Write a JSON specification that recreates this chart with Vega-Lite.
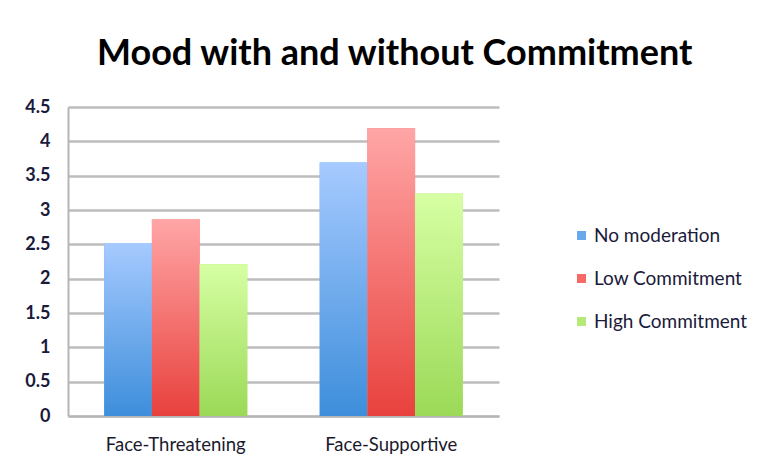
{
  "$schema": "https://vega.github.io/schema/vega-lite/v6.json",
  "width": 431,
  "height": 309,
  "autosize": {"type": "none"},
  "padding": {"left": 68, "top": 107, "right": 268, "bottom": 52},
  "background": "white",
  "title": {
    "text": "Mood with and without Commitment",
    "anchor": "start",
    "frame": "group",
    "dx": 29,
    "offset": 25,
    "font": "Lato",
    "fontSize": 36,
    "fontWeight": "bold",
    "color": "#000000"
  },
  "data": {
    "values": [
      {"condition": "Face-Threatening", "group": "No moderation", "mood": 2.52},
      {"condition": "Face-Threatening", "group": "Low Commitment", "mood": 2.87},
      {"condition": "Face-Threatening", "group": "High Commitment", "mood": 2.21},
      {"condition": "Face-Supportive", "group": "No moderation", "mood": 3.69},
      {"condition": "Face-Supportive", "group": "Low Commitment", "mood": 4.19},
      {"condition": "Face-Supportive", "group": "High Commitment", "mood": 3.24}
    ]
  },
  "encoding": {
    "x": {
      "field": "condition",
      "type": "nominal",
      "sort": ["Face-Threatening", "Face-Supportive"],
      "scale": {"paddingInner": 0.336, "paddingOuter": 0.168},
      "axis": {
        "title": null,
        "labelAngle": 0,
        "ticks": false,
        "labelPadding": 19,
        "labelFont": "Lato",
        "labelFontSize": 18.5,
        "labelColor": "#1a1a2e",
        "domainColor": "#b5b5b5",
        "domainWidth": 2
      }
    },
    "xOffset": {
      "field": "group",
      "type": "nominal",
      "sort": ["No moderation", "Low Commitment", "High Commitment"],
      "scale": {"paddingInner": 0, "paddingOuter": 0}
    },
    "y": {
      "field": "mood",
      "type": "quantitative",
      "scale": {"domain": [0, 4.5], "nice": false},
      "axis": {
        "title": null,
        "values": [0, 0.5, 1, 1.5, 2, 2.5, 3, 3.5, 4, 4.5],
        "format": "~g",
        "ticks": false,
        "labelPadding": 18,
        "labelFont": "Lato",
        "labelFontSize": 18,
        "labelFontWeight": "bold",
        "labelColor": "#1a1a3a",
        "domainColor": "#b5b5b5",
        "domainWidth": 2,
        "gridColor": "#bdbdbd",
        "gridWidth": 2.5
      }
    }
  },
  "layer": [
    {
      "mark": {"type": "bar"},
      "encoding": {
        "color": {
          "field": "group",
          "type": "nominal",
          "scale": {
            "domain": ["No moderation", "Low Commitment", "High Commitment"],
            "range": ["#6aa8ee", "#f56a66", "#b5ea78"]
          },
          "legend": {
            "title": null,
            "orient": "none",
            "legendX": 504,
            "legendY": 119,
            "symbolType": "square",
            "symbolSize": 81,
            "symbolStrokeWidth": 0,
            "symbolOpacity": 1,
            "labelFont": "Lato",
            "labelFontSize": 19,
            "labelColor": "#1a1a3a",
            "labelOffset": 3,
            "rowPadding": 23
          }
        }
      }
    },
    {
      "transform": [{"filter": "datum.group === 'No moderation'"}],
      "mark": {"type": "bar", "color": {"gradient": "linear", "x1": 0, "y1": 0, "x2": 0, "y2": 1, "stops": [{"offset": 0, "color": "#a6caff"}, {"offset": 1, "color": "#3d8edb"}]}}
    },
    {
      "transform": [{"filter": "datum.group === 'Low Commitment'"}],
      "mark": {"type": "bar", "color": {"gradient": "linear", "x1": 0, "y1": 0, "x2": 0, "y2": 1, "stops": [{"offset": 0, "color": "#ffa6a6"}, {"offset": 1, "color": "#e8413d"}]}}
    },
    {
      "transform": [{"filter": "datum.group === 'High Commitment'"}],
      "mark": {"type": "bar", "color": {"gradient": "linear", "x1": 0, "y1": 0, "x2": 0, "y2": 1, "stops": [{"offset": 0, "color": "#d6ffa3"}, {"offset": 1, "color": "#9bd957"}]}}
    }
  ],
  "config": {
    "view": {"stroke": null}
  }
}
